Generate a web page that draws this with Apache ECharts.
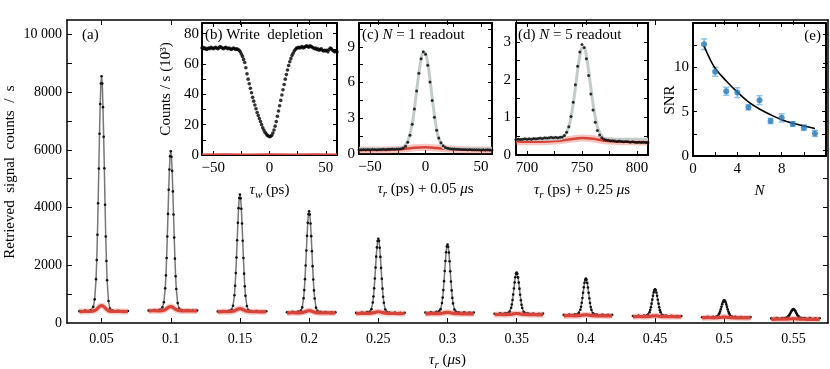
<!DOCTYPE html>
<html>
<head>
<meta charset="utf-8">
<script src="https://cdn.jsdelivr.net/npm/echarts@6/dist/echarts.min.js"></script>
<style>
html, body { margin: 0; padding: 0; background: #fff; }
#chart { width: 830px; height: 369px; }
</style>
</head>
<body>
<div id="chart"></div>
<script>
const FONT = 'Liberation Serif';

// (a) retrieved signal for each readout time
const readTimes = [0.05, 0.1, 0.15, 0.2, 0.25, 0.3, 0.35, 0.4, 0.45, 0.5, 0.55];
const peakOffsets = [-0.016, -0.012, -0.008, -0.006, -0.005, -0.004, -0.0035, -0.003, -0.0025, -0.002, -0.0015, -0.001, -0.0005, 0,
  0.0005, 0.001, 0.0015, 0.002, 0.0025, 0.003, 0.0035, 0.004, 0.005, 0.006, 0.008, 0.012, 0.016, 0.019];
const signalCounts = [
  [410, 430, 440, 560, 820, 1520, 2180, 3060, 4150, 5350, 6560, 7590, 8300, 8550, 8300, 7480, 6450, 5360, 4100, 3000, 2150, 1480, 760, 500, 430, 420, 410, 415],
  [430, 450, 460, 540, 720, 1200, 1650, 2250, 3000, 3780, 4620, 5320, 5780, 5950, 5760, 5270, 4560, 3760, 2960, 2230, 1620, 1180, 690, 500, 450, 440, 430, 435],
  [400, 415, 425, 470, 600, 960, 1290, 1730, 2270, 2870, 3470, 3980, 4330, 4450, 4320, 3960, 3450, 2850, 2250, 1710, 1270, 940, 590, 450, 415, 410, 400, 405],
  [370, 385, 400, 430, 540, 860, 1140, 1520, 1990, 2510, 3020, 3470, 3770, 3870, 3760, 3450, 3010, 2490, 1970, 1510, 1130, 850, 530, 420, 385, 380, 370, 375],
  [350, 365, 380, 400, 480, 710, 920, 1200, 1540, 1920, 2300, 2620, 2840, 2920, 2840, 2610, 2290, 1910, 1530, 1190, 910, 700, 470, 390, 365, 360, 350, 355],
  [360, 375, 390, 410, 480, 690, 880, 1140, 1450, 1800, 2150, 2450, 2650, 2720, 2640, 2440, 2140, 1790, 1440, 1130, 870, 680, 470, 395, 375, 370, 360, 365],
  [320, 335, 345, 350, 395, 525, 640, 795, 985, 1195, 1405, 1585, 1710, 1750, 1705, 1580, 1400, 1190, 980, 790, 635, 520, 390, 345, 335, 330, 320, 325],
  [280, 295, 300, 310, 350, 460, 560, 700, 865, 1050, 1235, 1395, 1500, 1540, 1500, 1390, 1230, 1045, 860, 695, 555, 455, 345, 305, 295, 290, 280, 285],
  [240, 255, 260, 265, 290, 375, 450, 550, 670, 810, 945, 1060, 1140, 1170, 1140, 1055, 940, 805, 670, 545, 445, 370, 285, 260, 255, 250, 240, 245],
  [200, 215, 215, 218, 236, 290, 335, 400, 475, 560, 650, 720, 770, 790, 770, 720, 645, 560, 475, 395, 335, 288, 235, 215, 212, 210, 200, 205],
  [160, 175, 175, 175, 185, 212, 237, 270, 312, 358, 404, 443, 470, 480, 470, 442, 402, 356, 310, 270, 236, 211, 184, 172, 172, 170, 160, 165]
];
const noiseOffsets = [-0.016, -0.012, -0.008, -0.005, -0.003, -0.0015, 0, 0.0015, 0.003, 0.005, 0.008, 0.012, 0.016, 0.019];
const noiseCounts = [
  [395, 405, 400, 430, 500, 570, 600, 570, 500, 425, 400, 405, 395, 400],
  [415, 425, 420, 440, 495, 545, 570, 545, 490, 440, 420, 420, 415, 420],
  [385, 395, 390, 405, 445, 480, 500, 480, 445, 405, 390, 390, 385, 390],
  [345, 355, 350, 360, 390, 415, 430, 415, 390, 360, 350, 350, 345, 350],
  [325, 335, 330, 340, 360, 380, 390, 380, 360, 340, 330, 330, 325, 330],
  [315, 325, 320, 327, 345, 362, 370, 362, 345, 327, 320, 318, 315, 318],
  [285, 295, 290, 295, 310, 323, 330, 323, 310, 295, 290, 288, 285, 288],
  [245, 255, 250, 255, 268, 280, 285, 280, 268, 255, 250, 248, 245, 248],
  [215, 225, 220, 224, 235, 245, 250, 245, 235, 224, 220, 218, 215, 218],
  [175, 185, 180, 183, 192, 200, 205, 200, 192, 183, 180, 178, 175, 178],
  [125, 135, 130, 133, 140, 147, 150, 147, 140, 133, 130, 128, 125, 128]
];

// (b) write depletion, tau_w = -60..60 ps, 1 ps step
const depletionStart = -60, depletionStep = 1;
const depletionCounts = [
  70.5, 71, 70, 70.5, 69.5, 70, 70.5, 70, 71, 70.5, 70, 70.5, 71, 70.5, 70, 70.5, 71.5, 71, 70.5, 70, 70.5, 71, 70.5, 70, 70.5, 70, 69.5, 70, 70.5, 70, 69.5, 70, 69.5,
  69, 68, 66.5, 65, 63, 61, 57.5, 53.5, 50, 47, 44, 41, 38, 35.5, 33, 30.5, 28, 26, 24, 22, 20, 18, 16.5, 15, 14, 13, 12.5,
  12, 12.3, 13, 14.5, 16.5, 19, 22, 25.5, 29, 32.5, 36, 39.5, 43, 46.5, 50, 53, 56, 59, 61.5, 63.5, 65.5, 67, 68.5, 69.5, 70.5,
  70.5, 71, 70.5, 71, 71.5, 70.5, 71, 71.5, 72, 71.5, 71, 72, 71.5, 71, 70.5, 70, 70.5, 69.5, 70, 69, 69.5, 70, 69, 68.5, 69, 68.5, 69, 68, 69.5, 70.5, 70, 69, 68.5, 68, 68.5, 68
];
const depletionNoiseT = [-60, -40, -20, 0, 20, 40, 60];
const depletionNoise = [0.5, 0.6, 0.5, 0.6, 0.5, 0.6, 0.5];

// (c) N = 1 readout, -60..60 ps, 2 ps step
const n1Start = -60, n1Step = 2;
const n1Counts = [
  0.36, 0.35, 0.37, 0.36, 0.38, 0.36, 0.37, 0.38, 0.36, 0.38, 0.37, 0.39, 0.38, 0.4, 0.39, 0.41, 0.4, 0.42, 0.43, 0.45,
  0.5, 0.66, 0.98, 1.57, 2.49, 3.77, 5.28, 6.79, 8.0, 8.58, 8.38, 7.45, 6.05, 4.5, 3.09, 2.0, 1.35, 0.95, 0.7, 0.55, 0.48, 0.44,
  0.42, 0.41, 0.4, 0.39, 0.38, 0.38, 0.37, 0.36, 0.37, 0.36, 0.35, 0.36, 0.35, 0.34, 0.35, 0.34, 0.35, 0.34, 0.34
];
const n1FitT = [-60, -40, -25, -20, -16, -12, -10, -8, -6, -4, -2, 0, 2, 4, 6, 8, 10, 12, 16, 20, 25, 40, 60];
const n1Fit = [0.45, 0.45, 0.45, 0.6, 1.05, 2.55, 3.8, 5.3, 6.75, 7.95, 8.5, 8.45, 7.65, 6.3, 4.75, 3.3, 2.1, 1.3, 0.55, 0.46, 0.45, 0.45, 0.45];
const n1NoiseT = [-60, -50, -40, -30, -20, -10, 0, 10, 20, 30, 40, 50, 60];
const n1Noise = [0.33, 0.34, 0.34, 0.36, 0.42, 0.52, 0.56, 0.5, 0.42, 0.37, 0.35, 0.34, 0.33];

// (d) N = 5 readout, 690..810 ps, 2 ps step
const n5Start = 690, n5Step = 2;
const n5Counts = [
  0.41, 0.42, 0.41, 0.42, 0.43, 0.42, 0.43, 0.42, 0.44, 0.43, 0.44, 0.45, 0.44, 0.46, 0.45, 0.46, 0.47, 0.46, 0.47, 0.46,
  0.47, 0.48, 0.52, 0.6, 0.75, 1.02, 1.4, 1.86, 2.35, 2.73, 2.93, 2.85, 2.55, 2.11, 1.62, 1.19, 0.87, 0.65, 0.53, 0.46, 0.42,
  0.4, 0.39, 0.38, 0.38, 0.37, 0.36, 0.37, 0.36, 0.35, 0.36, 0.35, 0.34, 0.35, 0.34, 0.33, 0.34, 0.33, 0.34, 0.33, 0.33
];
const n5FitT = [690, 720, 730, 734, 738, 740, 742, 744, 746, 748, 750, 752, 754, 756, 758, 760, 762, 764, 768, 772, 780, 810];
const n5Fit = [0.42, 0.42, 0.43, 0.5, 0.75, 1.01, 1.36, 1.79, 2.24, 2.62, 2.84, 2.84, 2.62, 2.24, 1.79, 1.36, 1.01, 0.75, 0.5, 0.43, 0.42, 0.42];
const n5NoiseT = [690, 700, 710, 720, 730, 740, 750, 760, 770, 780, 790, 800, 810];
const n5Noise = [0.36, 0.35, 0.35, 0.36, 0.38, 0.42, 0.45, 0.43, 0.38, 0.36, 0.35, 0.35, 0.34];

// (e) SNR vs number of readouts
const snrN = [1, 2, 3, 4, 5, 6, 7, 8, 9, 10, 11];
const snrValues = [12.6, 9.5, 7.3, 7.15, 5.5, 6.3, 3.95, 4.3, 3.6, 3.2, 2.55];
const snrErrors = [0.6, 0.5, 0.45, 0.55, 0.3, 0.5, 0.3, 0.45, 0.25, 0.3, 0.35];
const snrFitN = [1, 1.5, 2, 3, 4, 5, 6, 7, 8, 9, 10, 11];
const snrFit = [12.4, 11.0, 9.9, 8.45, 7.2, 6.1, 5.3, 4.65, 4.1, 3.7, 3.4, 3.1];

const rich = {
  m: { fontFamily: FONT, fontSize: 15, color: '#000', verticalAlign: 'bottom', padding: [0, 0, 3, 0] },
  t: { fontFamily: FONT, fontSize: 15, color: '#000', fontStyle: 'italic', verticalAlign: 'bottom', padding: [0, 0, 3, 0] },
  s: { fontFamily: FONT, fontSize: 11, color: '#000', fontStyle: 'italic', verticalAlign: 'bottom' }
};

const sampled = (start, step, vals) => vals.map((v, i) => [start + i * step, v]);
const pairs = (xs, ys) => xs.map((x, i) => [x, ys[i]]);
const minus = v => (v < 0 ? '\u2212' + (-v) : String(v));

const grids = [
  { left: 67, top: 20, width: 761, height: 303 },
  { left: 202, top: 23, width: 135, height: 132 },
  { left: 359, top: 23, width: 133, height: 131 },
  { left: 516, top: 23, width: 132, height: 132 },
  { left: 693, top: 23, width: 133, height: 133 }
].map(g => Object.assign({ show: true, backgroundColor: '#fff', borderWidth: 0, outerBoundsMode: 'none', containLabel: false }, g));

const xAxes = [], yAxes = [];
function addAxes(gi, x, y, lw, tl, fs) {
  const line = { show: true, onZero: false, lineStyle: { color: '#000', width: lw } };
  const tick = vals => ({ show: true, inside: true, length: tl, customValues: vals, lineStyle: { color: '#000', width: 1 } });
  const nameStyle = { fontFamily: FONT, fontSize: 15, color: '#000', rich };
  xAxes.push({
    type: 'value', gridIndex: gi, position: 'bottom', min: x.min, max: x.max,
    axisLine: line, axisTick: tick(x.ticks), splitLine: { show: false },
    axisLabel: { customValues: x.labels, formatter: x.fmt || minus, fontFamily: FONT, fontSize: fs, color: '#000', margin: x.margin },
    name: x.name, nameLocation: 'middle', nameGap: x.gap, nameTextStyle: nameStyle
  });
  xAxes.push({
    type: 'value', gridIndex: gi, position: 'top', min: x.min, max: x.max,
    axisLine: line, axisTick: tick(x.ticks), axisLabel: { show: false }, splitLine: { show: false }
  });
  yAxes.push({
    type: 'value', gridIndex: gi, position: 'left', min: y.min, max: y.max,
    axisLine: line, axisTick: tick(y.ticks), splitLine: { show: false },
    axisLabel: { customValues: y.labels, formatter: y.fmt || minus, fontFamily: FONT, fontSize: fs, color: '#000', margin: y.margin },
    name: y.name, nameLocation: 'middle', nameGap: y.gap, nameTextStyle: nameStyle
  });
  yAxes.push({
    type: 'value', gridIndex: gi, position: 'right', min: y.min, max: y.max,
    axisLine: line, axisTick: tick(y.ticks), axisLabel: { show: false }, splitLine: { show: false }
  });
}

addAxes(0,
  { min: 0.025, max: 0.575, ticks: readTimes, labels: readTimes, fmt: v => String(v), margin: 9,
    name: '{t|\u03c4}{s|r}{m| (}{t|\u03bc}{m|s)}', gap: 30 },
  { min: 0, max: 10500, ticks: [1000, 2000, 3000, 4000, 5000, 6000, 7000, 8000, 9000, 10000],
    labels: [0, 2000, 4000, 6000, 8000, 10000], fmt: v => (v === 10000 ? '10 000' : String(v)), margin: 5 },
  1.5, 5, 14);
addAxes(1,
  { min: -60, max: 60, ticks: [-50, -25, 0, 25, 50], labels: [-50, 0, 50], margin: 6,
    name: '{t|\u03c4}{s|w}{m| (ps)}', gap: 28 },
  { min: 0, max: 87, ticks: [10, 20, 30, 40, 50, 60, 70, 80], labels: [0, 20, 40, 60, 80], margin: 3,
    name: 'Counts / s (10\u00b3)', gap: 28 },
  2, 4, 15);
addAxes(2,
  { min: -60, max: 60, ticks: [-50, -25, 0, 25, 50], labels: [-50, 0, 50], margin: 6,
    name: '{t|\u03c4}{s|r}{m| (ps) + 0.05 }{t|\u03bc}{m|s}', gap: 28 },
  { min: 0, max: 11, ticks: [1.5, 3, 4.5, 6, 7.5, 9, 10.5], labels: [0, 3, 6, 9], margin: 4 },
  2, 4, 15);
addAxes(3,
  { min: 690, max: 810, ticks: [700, 725, 750, 775, 800], labels: [700, 750, 800], margin: 6,
    name: '{t|\u03c4}{s|r}{m| (ps) + 0.25 }{t|\u03bc}{m|s}', gap: 28 },
  { min: 0, max: 3.5, ticks: [0.5, 1, 1.5, 2, 2.5, 3], labels: [0, 1, 2, 3], margin: 5 },
  2, 4, 15);
addAxes(4,
  { min: 0, max: 12, ticks: [2, 4, 6, 8, 10], labels: [0, 4, 8], margin: 6,
    name: '{t|N}', gap: 28 },
  { min: 0, max: 15, ticks: [2.5, 5, 7.5, 10, 12.5], labels: [0, 5, 10], margin: 4 },
  2, 4, 15);

const series = [];
const onGrid = gi => ({ xAxisIndex: 2 * gi, yAxisIndex: 2 * gi });

readTimes.forEach((t, i) => {
  series.push(Object.assign({
    type: 'line', data: peakOffsets.map((o, j) => [t + o, signalCounts[i][j]]),
    symbol: 'circle', symbolSize: 2.6, itemStyle: { color: '#111' },
    lineStyle: { color: '#777', width: 1.5 }, z: 3
  }, onGrid(0)));
});
readTimes.forEach((t, i) => {
  const data = noiseOffsets.map((o, j) => [t + o, noiseCounts[i][j]]);
  series.push(Object.assign({
    type: 'line', data, symbol: 'none', smooth: 0.3,
    lineStyle: { color: 'rgba(232,110,98,0.35)', width: 6 }, z: 4
  }, onGrid(0)));
  series.push(Object.assign({
    type: 'line', data, symbol: 'none', smooth: 0.3,
    lineStyle: { color: '#d8443a', width: 3.2 }, z: 5
  }, onGrid(0)));
});

// (b)
series.push(Object.assign({
  type: 'line', data: pairs(depletionNoiseT, depletionNoise), symbol: 'none',
  lineStyle: { color: '#d6443a', width: 1.5 }, z: 3
}, onGrid(1)));
series.push(Object.assign({
  type: 'scatter', data: sampled(depletionStart, depletionStep, depletionCounts),
  symbolSize: 3.6, itemStyle: { color: '#000' }, z: 4
}, onGrid(1)));

// (c) and (d)
[[2, n1NoiseT, n1Noise, n1FitT, n1Fit, n1Start, n1Step, n1Counts],
 [3, n5NoiseT, n5Noise, n5FitT, n5Fit, n5Start, n5Step, n5Counts]].forEach(p => {
  const [gi, nT, nV, fT, fV, s0, ds, cV] = p;
  series.push(Object.assign({
    type: 'line', data: pairs(nT, nV), symbol: 'none', smooth: 0.4,
    lineStyle: { color: 'rgba(232,110,98,0.4)', width: 7 }, z: 2
  }, onGrid(gi)));
  series.push(Object.assign({
    type: 'line', data: pairs(nT, nV), symbol: 'none', smooth: 0.4,
    lineStyle: { color: '#d6443a', width: 2.5 }, z: 3
  }, onGrid(gi)));
  series.push(Object.assign({
    type: 'line', data: pairs(fT, fV), symbol: 'none', smooth: 0.4,
    lineStyle: { color: '#c3cbcb', width: 3 }, z: 4
  }, onGrid(gi)));
  series.push(Object.assign({
    type: 'scatter', data: sampled(s0, ds, cV),
    symbolSize: 3, itemStyle: { color: '#000' }, z: 5
  }, onGrid(gi)));
});

// (e)
series.push(Object.assign({
  type: 'custom', z: 3,
  data: snrN.map((n, i) => [n, snrValues[i] - snrErrors[i], snrValues[i] + snrErrors[i]]),
  encode: { x: 0, y: [1, 2] },
  renderItem: (params, api) => {
    const top = api.coord([api.value(0), api.value(2)]);
    const bot = api.coord([api.value(0), api.value(1)]);
    const st = { stroke: '#8cc2ea', lineWidth: 1.5 };
    return { type: 'group', children: [
      { type: 'line', shape: { x1: top[0], y1: top[1], x2: bot[0], y2: bot[1] }, style: st },
      { type: 'line', shape: { x1: top[0] - 3, y1: top[1], x2: top[0] + 3, y2: top[1] }, style: st },
      { type: 'line', shape: { x1: bot[0] - 3, y1: bot[1], x2: bot[0] + 3, y2: bot[1] }, style: st }
    ] };
  }
}, onGrid(4)));
series.push(Object.assign({
  type: 'line', data: pairs(snrFitN, snrFit), symbol: 'none', smooth: 0.4,
  lineStyle: { color: '#000', width: 1.6 }, z: 4
}, onGrid(4)));
series.push(Object.assign({
  type: 'scatter', data: pairs(snrN, snrValues),
  symbolSize: 6, itemStyle: { color: '#2a7ab8' }, z: 5
}, onGrid(4)));

const titleRich = {
  a: { fontFamily: FONT, fontSize: 15, color: '#000' },
  i: { fontFamily: FONT, fontSize: 15, color: '#000', fontStyle: 'italic' }
};
const label = (x, y, text, align) => ({
  type: 'text', x, y, z: 100,
  style: { text, rich: titleRich, fontFamily: FONT, fontSize: 15, fill: '#000',
    align: align || 'left', verticalAlign: 'middle', textAlign: align || 'left', textVerticalAlign: 'middle' }
});
const vlabel = (x, y, text) => ({
  type: 'text', x, y, rotation: Math.PI / 2, z: 100,
  style: { text, fontFamily: FONT, fontSize: 15, fill: '#000',
    align: 'center', verticalAlign: 'middle', textAlign: 'center', textVerticalAlign: 'middle' }
});

const chart = echarts.init(document.getElementById('chart'));
chart.setOption({
  animation: false,
  backgroundColor: '#fff',
  textStyle: { fontFamily: FONT },
  grid: grids,
  xAxis: xAxes,
  yAxis: yAxes,
  series,
  graphic: [
    label(82, 35, '{a|(a)}'),
    label(205, 35, '{a|(b) Write  depletion}'),
    label(362, 35, '{a|(c) }{i|N}{a| = 1 readout}'),
    label(518, 35, '{a|(d) }{i|N}{a| = 5 readout}'),
    label(821, 36, '{a|(e)}', 'right'),
    vlabel(670, 100, 'SNR'),
    vlabel(10, 172, 'Retrieved  signal  counts  /  s')
  ]
});
</script>
</body>
</html>
